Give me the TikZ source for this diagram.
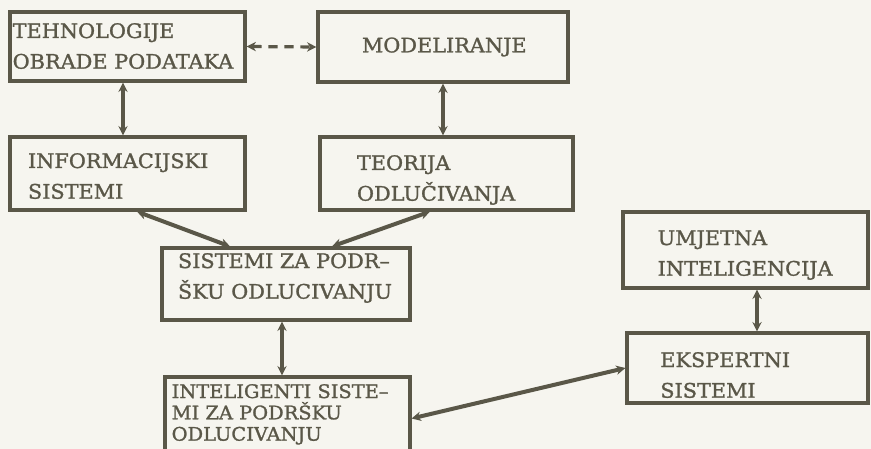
\documentclass[tikz,border=0pt]{standalone}
\usepackage{fontspec}
\newfontfamily\blokfont[FakeStretch=1.04,FakeBold=1.3]{DejaVu Serif}
\usepackage{tikz}
\usetikzlibrary{arrows.meta,calc}
\definecolor{ink}{HTML}{5A5748}
\definecolor{paper}{HTML}{F6F5EF}

\begin{document}
\begin{tikzpicture}[
      x=0.75pt, y=-0.75pt,
      blok/.style={
        rectangle, draw=ink, line width=2.4pt, text=ink, align=left,
        font=\blokfont\fontsize{15pt}{23pt}\selectfont, inner ysep=0pt
      },
      veza/.style={{Stealth[length=7pt,width=7pt]}-{Stealth[length=7pt,width=7pt]}, draw=ink, line width=2.4pt},
      debela/.style={veza, line width=3pt},
      crtkana/.style={veza, dash pattern=on 7pt off 5pt}
    ]
      \fill[paper] (0,0) rectangle (871,449);
      \useasboundingbox (0,0) rectangle (871,449);

      \node[blok, minimum height=51.75pt, text width=172.25pt, inner xsep=2pt,
        text height=13.25pt, text depth=26pt] (tehno) at (127.5,46.5) {TEHNOLOGIJE\\OBRADE PODATAKA};
      \node[blok, minimum height=52.5pt, text width=121.5pt, inner xsep=33pt] (model) at (443,47) {MODELIRANJE};
      \node[blok, minimum height=54.75pt, text width=149.25pt, inner xsep=13.5pt,
        text height=17.75pt, text depth=26pt] (info) at (127.5,173.5) {INFORMACIJSKI\\SISTEMI};
      \node[blok, minimum height=54.75pt, text width=134.25pt, inner xsep=27.75pt,
        text height=20.75pt, text depth=26pt] (teor) at (446.5,173.5) {TEORIJA\\ODLUČIVANJA};
      \node[blok, minimum height=54pt, text width=162pt, inner xsep=12pt,
        text height=12pt, text depth=36pt] (sppo) at (286,284) {SISTEMI ZA PODR–\\ŠKU ODLUCIVANJU};
      \node[blok, minimum height=62.25pt, text width=173.75pt, inner xsep=5pt,
        font=\blokfont\fontsize{14pt}{16pt}\selectfont,
        text height=12pt, text depth=42.75pt] (isppo) at (287.5,418.5) {INTELIGENTI SISTE–\\MI ZA PODRŠKU\\ODLUCIVANJU};
      \node[blok, minimum height=57pt, text width=131.75pt, inner xsep=26pt,
        text height=18.5pt, text depth=26pt] (ui) at (745.5,250) {UMJETNA\\INTELIGENCIJA};
      \node[blok, minimum height=52.5pt, text width=130.75pt, inner xsep=25pt,
        text height=24.5pt, text depth=26pt] (es) at (747.5,368) {EKSPERTNI\\SISTEMI};

      \draw[crtkana] (tehno.east) -- (model.west);
      \draw[veza] ($(tehno.south)+(-4.5,0)$) coordinate (t1) -- (t1 |- info.north);
      \draw[veza] (model.south) -- (teor.north -| model.south);
      \draw[debela] ($(info.south)+(9.5,0)$) -- ($(sppo.north)+(-56,0)$);
      \draw[debela] ($(teor.south)+(-16.5,0)$) -- ($(sppo.north)+(46,0)$);
      \draw[veza] ($(sppo.south)+(-4,0)$) coordinate (s1) -- (s1 |- isppo.north);
      \draw[veza] ($(ui.south)+(11.5,0)$) coordinate (u1) -- (u1 |- es.north);
      \draw[debela] (isppo.east) -- (es.west);
    \end{tikzpicture}
\end{document}
